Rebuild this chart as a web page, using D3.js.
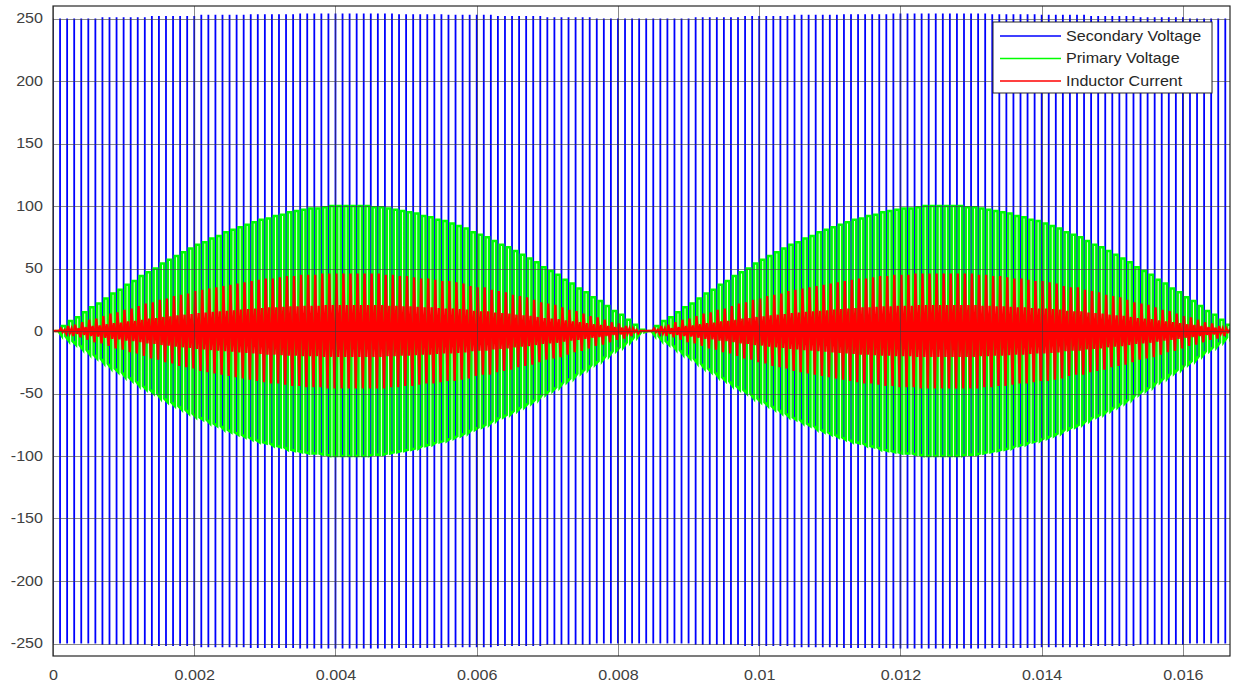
<!DOCTYPE html>
<html>
<head>
<meta charset="utf-8">
<script src="https://cdn.jsdelivr.net/npm/d3@7/dist/d3.min.js"></script>
<style>
  html, body { margin: 0; padding: 0; background: #fff; }
  text { font-family: "Liberation Sans", Arial, Helvetica, sans-serif; }
</style>
</head>
<body>
<div id="chart"></div>
<script>
const width = 1233
const height = 690

// tick values and labels
const xTicks = [0, 0.002, 0.004, 0.006, 0.008, 0.01, 0.012, 0.014, 0.016]
const xTickLabels = ['0', '0.002', '0.004', '0.006', '0.008', '0.01', '0.012', '0.014', '0.016']
const yTicks = [-250, -200, -150, -100, -50, 0, 50, 100, 150, 200, 250]
const yTickLabels = ['-250', '-200', '-150', '-100', '-50', '0', '50', '100', '150', '200', '250']

const seriesNames = ['Secondary Voltage', 'Primary Voltage', 'Inductor Current']
const seriesColors = ['#0000ff', '#00ff00', '#ff0000']

const switchPeriod = 0.0001
const halfCycle = 1 / 120
const tEnd = 1 / 60

// peak of each switching period over one half-cycle (both halves look the same)
const primaryPeak = [0, 4, 8, 11, 15, 19, 22, 26, 30, 33,
    37, 40, 44, 47, 50, 54, 57, 60, 63, 66,
    69, 71, 74, 76, 79, 81, 83, 85, 87, 89,
    90, 92, 93, 95, 96, 97, 98, 98, 99, 100,
    100, 100, 100, 100, 100, 99, 99, 98, 97, 96,
    95, 94, 92, 91, 89, 88, 86, 84, 82, 79,
    77, 75, 72, 69, 67, 64, 61, 58, 55, 51,
    48, 45, 41, 38, 34, 31, 27, 24, 20, 16,
    13, 9, 5, 1]

const currentPeak = [0, 2, 4, 5, 7, 9, 10, 12, 14, 15,
    17, 18, 20, 22, 23, 25, 26, 28, 29, 30,
    32, 33, 34, 35, 36, 37, 38, 39, 40, 41,
    42, 42, 43, 44, 44, 45, 45, 45, 46, 46,
    46, 46, 46, 46, 46, 46, 46, 45, 45, 44,
    44, 43, 42, 42, 41, 40, 40, 39, 38, 36,
    35, 35, 33, 32, 31, 29, 28, 27, 25, 23,
    22, 21, 19, 17, 16, 14, 12, 11, 9, 7,
    6, 4, 2, 0]

// secondary peak, one reading per 7 switching periods
const secondaryPeak = [250, 251, 252, 253, 253.5, 254, 254, 253.5, 253, 252, 251, 250]

// shape of the current inside one switching period
const currentShape = [1, -0.45, 0.45, -1]

const margin = {left: 53, right: 3, top: 6, bottom: 34}
const textStretch = 1.15 // the picture's lettering is a bit wide

const x = d3.scaleLinear()
    .domain([0, tEnd])
    .range([margin.left, width - margin.right])

const y = d3.scaleLinear()
    .domain([-260, 260])
    .range([height - margin.bottom, margin.top])

const svg = d3.select('#chart')
    .append('svg')
    .attr('width', width)
    .attr('height', height)

svg.append('defs')
    .append('clipPath')
    .attr('id', 'plot-clip')
    .append('rect')
    .attr('x', x(0))
    .attr('y', y(260))
    .attr('width', x(tEnd) - x(0))
    .attr('height', y(-260) - y(260))

// one entry per switching period
const periods = d3.range(Math.ceil(tEnd / switchPeriod) + 1).map(k => {
    const t = k * switchPeriod
    const i = Math.min(primaryPeak.length - 1, Math.floor((t % halfCycle) / switchPeriod + 1e-9))
    return {
        t: t,
        primary: primaryPeak[i],
        current: currentPeak[i],
        secondary: secondaryPeak[Math.min(secondaryPeak.length - 1, Math.floor(i / 7))]
    }
})

const plot = svg.append('g')
    .attr('clip-path', 'url(#plot-clip)')

// secondary voltage bars
plot.append('g')
    .selectAll('line')
    .data(periods)
    .enter()
    .append('line')
    .attr('x1', d => x(d.t))
    .attr('x2', d => x(d.t))
    .attr('y1', d => y(-d.secondary))
    .attr('y2', d => y(d.secondary))
    .attr('stroke', seriesColors[0])
    .attr('stroke-width', 1.8)

// primary voltage square wave
const primaryPts = []
periods.forEach(d => {
    const a = d.t + 0.25 * switchPeriod
    const b = d.t + 0.75 * switchPeriod
    primaryPts.push([a, -d.primary], [a, d.primary], [b, d.primary], [b, -d.primary])
})

const line = d3.line()
    .x(p => x(p[0]))
    .y(p => y(p[1]))

plot.append('path')
    .datum(primaryPts)
    .attr('fill', 'none')
    .attr('stroke', seriesColors[1])
    .attr('stroke-width', 2.6)
    .attr('d', line)

// inductor current
const currentPts = [[0, 0]]
periods.forEach(d => {
    currentShape.forEach((s, j) => {
        currentPts.push([d.t + (j + 0.5) / currentShape.length * switchPeriod, s * d.current])
    })
})

plot.append('path')
    .datum(currentPts)
    .attr('fill', 'none')
    .attr('stroke', seriesColors[2])
    .attr('stroke-width', 2.4)
    .attr('d', line)

// grid sits over the data, as in the picture
const grid = svg.append('g')
    .attr('class', 'grid')

grid.selectAll('line.gx')
    .data(xTicks)
    .enter()
    .append('line')
    .attr('class', 'gx')
    .attr('x1', d => Math.round(x(d)) + 0.5)
    .attr('x2', d => Math.round(x(d)) + 0.5)
    .attr('y1', y(260))
    .attr('y2', y(-260))

grid.selectAll('line.gy')
    .data(yTicks)
    .enter()
    .append('line')
    .attr('class', 'gy')
    .attr('x1', x(0))
    .attr('x2', x(tEnd))
    .attr('y1', d => Math.round(y(d)) + 0.5)
    .attr('y2', d => Math.round(y(d)) + 0.5)

grid.selectAll('line')
    .attr('stroke', '#3c3c3c')
    .attr('stroke-opacity', 0.6)
    .attr('stroke-width', 1)

// axes
const xAxis = svg.append('g')
    .attr('transform', `translate(0, ${y(-260)})`)
    .call(d3.axisBottom(x)
        .tickValues(xTicks)
        .tickSize(0)
        .tickPadding(14)
        .tickFormat((d, i) => xTickLabels[i]))

const yAxis = svg.append('g')
    .attr('transform', `translate(${x(0)}, 0)`)
    .call(d3.axisLeft(y)
        .tickValues(yTicks)
        .tickSize(0)
        .tickPadding(11)
        .tickFormat((d, i) => yTickLabels[i]))

svg.selectAll('.domain').remove()
svg.selectAll('.tick text')
    .attr('fill', '#404040')
    .attr('transform', `scale(${textStretch}, 1)`)
    .style('font-size', '14px')
    .style('font-family', '"Liberation Sans", Arial, sans-serif')
yAxis.selectAll('.tick text')
    .attr('x', -10 / textStretch)

// axes box
svg.append('rect')
    .attr('x', x(0))
    .attr('y', y(260))
    .attr('width', x(tEnd) - x(0))
    .attr('height', y(-260) - y(260))
    .attr('fill', 'none')
    .attr('stroke', '#262626')
    .attr('stroke-width', 1.2)

// legend
const legend = svg.append('g')
    .attr('transform', 'translate(993, 22)')

legend.append('rect')
    .attr('width', 219)
    .attr('height', 71)
    .attr('fill', '#fff')
    .attr('stroke', '#262626')
    .attr('stroke-width', 1)

const entries = legend.selectAll('g.entry')
    .data(seriesNames)
    .enter()
    .append('g')
    .attr('class', 'entry')
    .attr('transform', (d, i) => `translate(0, ${14 + i * 22.5})`)

entries.append('line')
    .attr('x1', 7)
    .attr('x2', 68)
    .attr('stroke', (d, i) => seriesColors[i])
    .attr('stroke-width', 1.6)

entries.append('text')
    .attr('transform', `translate(73, 0) scale(${textStretch}, 1)`)
    .attr('dy', '0.35em')
    .attr('fill', '#262626')
    .style('font-size', '14px')
    .text(d => d)
</script>
</body>
</html>
